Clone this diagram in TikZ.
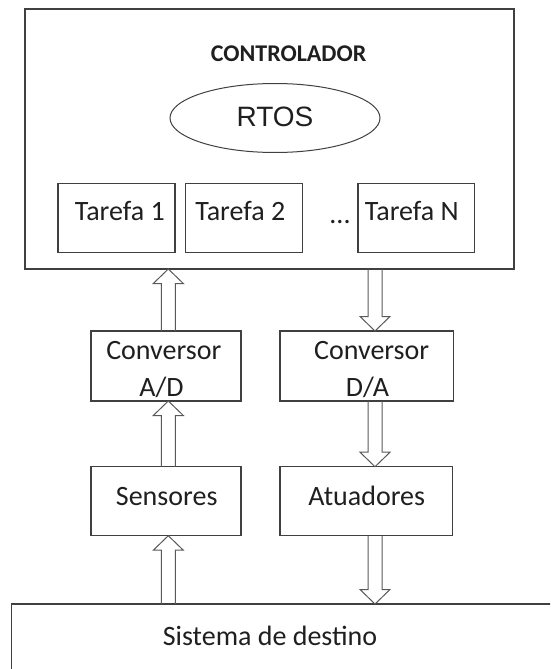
\documentclass[tikz,border=0pt]{standalone}
\usepackage{fontspec}
\setmainfont{Carlito}
\newfontfamily\rtosfont{Liberation Sans}
\usetikzlibrary{calc,shapes.geometric}

\tikzset{
  frame/.style={draw=black!75, line width=1.3pt, inner sep=0pt, outer sep=0pt},
  txt/.style={anchor=base, inner sep=0pt, text=black!88, font=\fontsize{28}{34}\selectfont},
  blockarr/.style={draw=black!65, line width=1pt, line join=miter},
}

% hollow block arrow from #1 (tail) to #2 (tip)
\newcommand\blockarrow[2]{%
  \path (#1) coordinate (ba-s) (#2) coordinate (ba-t);
  \path ($(ba-t)!14.5pt!(ba-s)$) coordinate (ba-h);
  \draw[blockarr] ($(ba-s)!7pt!90:(ba-t)$) -- ($(ba-h)!7pt!90:(ba-t)$)
    -- ($(ba-h)!15pt!90:(ba-t)$) -- (ba-t) -- ($(ba-h)!15pt!-90:(ba-t)$)
    -- ($(ba-h)!7pt!-90:(ba-t)$) -- ($(ba-s)!7pt!-90:(ba-t)$);
}

\begin{document}
\begin{tikzpicture}[x=1pt,y=-1pt]
\useasboundingbox (0,0) rectangle (550,669);
\clip (0,0) rectangle (550,669);

% controller block
\node[frame, minimum width=489pt, minimum height=260pt] (ctrl) at (269.5,139) {};
\node[txt, font=\bfseries\fontsize{24}{28}\selectfont] (ctrltitle) at (288.6,61.7) {CONTROLADOR};
\node[draw=black!75, line width=1pt, ellipse, minimum width=210pt, minimum height=69pt, inner sep=0pt] (rtos) at (275,118) {};
\node[txt, font=\rtosfont\fontsize{28}{34}\selectfont] (rtoslbl) at (275,126) {RTOS};

% tasks
\node[frame, minimum width=117pt, minimum height=69.4pt] (t1) at (116.5,218) {};
\node[frame, minimum width=117pt, minimum height=69.4pt] (t2) at (243.8,218) {};
\node[frame, minimum width=116.3pt, minimum height=69.4pt] (tn) at (416.2,218) {};
\node[txt] (t1lbl) at (119.8,220) {Tarefa 1};
\node[txt] (t2lbl) at (240.3,220) {Tarefa 2};
\node[txt] (tnlbl) at (411.8,220) {Tarefa N};
\node[txt] (dots) at (340,223) {...};

% converters
\node[frame, minimum width=150pt, minimum height=70pt] (ad) at (166,366) {};
\node[frame, minimum width=173.3pt, minimum height=70pt] (da) at (366.7,366) {};
\node[txt] (ad1) at (163.8,359.3) {Conversor};
\node[txt] (ad2) at (161.5,396) {A/D};
\node[txt] (da1) at (371.7,359.3) {Conversor};
\node[txt] (da2) at (367.5,396) {D/A};

% sensors and actuators
\node[frame, minimum width=150pt, minimum height=69pt] (sen) at (166,501.2) {};
\node[frame, minimum width=172.7pt, minimum height=69pt] (atu) at (366.4,501.2) {};
\node[txt] (senlbl) at (166.7,505) {Sensores};
\node[txt] (atulbl) at (366.7,505) {Atuadores};

% target system
\node[frame, minimum width=560pt, minimum height=100pt] (sis) at (291.7,654) {};
\node[txt] (sislbl) at (270,645) {Sistema de destino};

% arrow axes
\coordinate (lx) at (168.3,0);
\coordinate (rx) at (375,0);

% data flow
\blockarrow{ad.north -| lx}{ctrl.south -| lx}
\blockarrow{ctrl.south -| rx}{da.north -| rx}
\blockarrow{sen.north -| lx}{ad.south -| lx}
\blockarrow{da.south -| rx}{atu.north -| rx}
\blockarrow{sis.north -| lx}{sen.south -| lx}
\blockarrow{atu.south -| rx}{sis.north -| rx}
\end{tikzpicture}
\end{document}
